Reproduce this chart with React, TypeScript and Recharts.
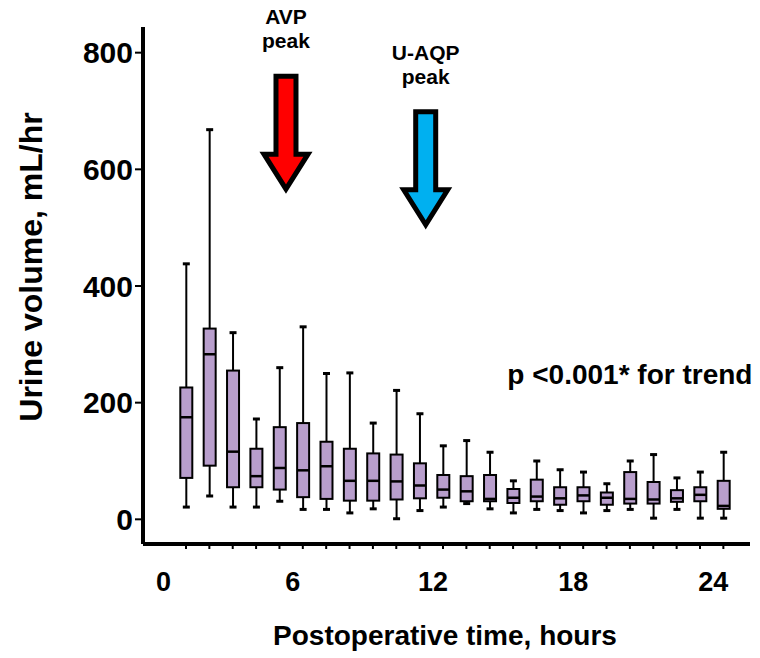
import { ComposedChart, Bar, XAxis, YAxis, ReferenceDot } from "recharts";

const FONT = '"Liberation Sans", Arial, Helvetica, sans-serif';

// postoperative hour of each box
const hours = [1, 2, 3, 4, 5, 6, 7, 8, 9, 10, 11, 12, 13, 14, 15, 16, 17, 18, 19, 20, 21, 22, 23, 24];
// urine volume, mL/hr
const maxs = [438, 668, 320, 172, 260, 330, 250, 251, 165, 221, 181, 126, 135, 115, 66, 100, 85, 81, 61, 100, 111, 71, 81, 115];
const q3s = [226, 327, 255, 121, 158, 165, 133, 121, 113, 111, 96, 76, 74, 76, 52, 68, 55, 55, 46, 81, 64, 50, 55, 66];
const medians = [175, 283, 116, 74, 88, 84, 91, 66, 66, 65, 58, 51, 48, 35, 37, 39, 36, 41, 37, 35, 34, 36, 42, 23];
const q1s = [71, 92, 55, 55, 51, 38, 35, 32, 32, 34, 36, 37, 31, 31, 28, 31, 25, 31, 25, 27, 27, 30, 31, 18];
const mins = [21, 40, 21, 21, 31, 17, 17, 11, 18, 1, 15, 21, 27, 18, 11, 17, 15, 11, 15, 17, 2, 17, 2, 2];

const xTicks = [0, 1, 2, 3, 4, 5, 6, 7, 8, 9, 10, 11, 12, 13, 14, 15, 16, 17, 18, 19, 20, 21, 22, 23, 24];
const yTicks = [0, 200, 400, 600, 800];

// annotation anchors (arrow tips), in data units
const avpPeak = { hour: 5.28, value: 566 };
const aqpPeak = { hour: 11.26, value: 505 };
const trendNote = { hour: 20.0, value: 246 };

const data = hours.map((h, i) => ({
  hour: h,
  min: mins[i],
  q1: q1s[i],
  median: medians[i],
  q3: q3s[i],
  max: maxs[i],
}));

const BoxShape = (props: any) => {
  const { x, y, width, height, payload } = props;
  if (!payload) return null;
  const top = Math.min(y, y + height);
  const bottom = Math.max(y, y + height);
  const span = payload.max - payload.min;
  const toY = (v: number) => (span === 0 ? top : top + ((payload.max - v) / span) * (bottom - top));
  const cx = x + width / 2;
  const yq3 = toY(payload.q3);
  const yq1 = toY(payload.q1);
  const ymed = toY(payload.median);
  const cap = 3.5;
  return (
    <g>
      <line x1={cx} x2={cx} y1={top} y2={bottom} stroke="#000" strokeWidth={2} />
      <line x1={cx - cap} x2={cx + cap} y1={top} y2={top} stroke="#000" strokeWidth={3} />
      <line x1={cx - cap} x2={cx + cap} y1={bottom} y2={bottom} stroke="#000" strokeWidth={3} />
      <rect x={x} y={yq3} width={width} height={yq1 - yq3} fill="#b89ecc" stroke="#000" strokeWidth={2} />
      <line x1={x} x2={x + width} y1={ymed} y2={ymed} stroke="#000" strokeWidth={2.5} />
    </g>
  );
};

const XTick = (props: any) => {
  const { x, y, payload } = props;
  const h = payload.value;
  return (
    <g>
      {h > 0 && <line x1={x} x2={x} y1={y} y2={y + 5} stroke="#000" strokeWidth={2} />}
      {h % 6 === 0 && (
        <text
          x={x + (h === 0 ? 1 : -10)}
          y={y + 47}
          textAnchor="middle"
          fontFamily={FONT}
          fontWeight={700}
          fontSize={27}
          fill="#000"
        >
          {h}
        </text>
      )}
    </g>
  );
};

const makeArrow = (fill: string, line1: string, line2: string) => (props: any) => {
  const { cx, cy } = props;
  const pts = [
    [cx, cy],
    [cx - 22, cy - 35],
    [cx - 10, cy - 35],
    [cx - 10, cy - 113],
    [cx + 10, cy - 113],
    [cx + 10, cy - 35],
    [cx + 22, cy - 35],
  ]
    .map((p) => p.join(","))
    .join(" ");
  return (
    <g>
      <polygon points={pts} fill={fill} stroke="#000" strokeWidth={5} strokeLinejoin="miter" />
      <text x={cx} y={cy - 165} textAnchor="middle" fontFamily={FONT} fontWeight={700} fontSize={21} fill="#000">
        {line1}
      </text>
      <text x={cx} y={cy - 141} textAnchor="middle" fontFamily={FONT} fontWeight={700} fontSize={21} fill="#000">
        {line2}
      </text>
    </g>
  );
};

const TrendNote = (props: any) => (
  <text x={props.cx} y={props.cy + 8} textAnchor="middle" fontFamily={FONT} fontWeight={700} fontSize={28} fill="#000">
    p &lt;0.001* for trend
  </text>
);

export default function App() {
  return (
    <div style={{ position: "absolute", left: 0, top: 0, background: "#fff" }}>
      <ComposedChart width={760} height={658} data={data} margin={{ top: 27, right: 10, bottom: 0, left: 0 }}>
        <XAxis
          dataKey="hour"
          type="number"
          domain={[-0.84, 25.14]}
          allowDataOverflow
          ticks={xTicks}
          interval={0}
          height={114}
          tickSize={0}
          tickMargin={0}
          tickLine={false}
          tick={<XTick />}
          axisLine={{ stroke: "#000", strokeWidth: 4 }}
          label={{
            content: () => (
              <text x={445} y={645} textAnchor="middle" fontFamily={FONT} fontWeight={700} fontSize={28} fill="#000">
                Postoperative time, hours
              </text>
            ),
          }}
        />
        <YAxis
          type="number"
          domain={[-42.3, 844]}
          allowDataOverflow
          ticks={yTicks}
          interval={0}
          width={143}
          tickSize={8}
          tickMargin={2}
          tickLine={{ stroke: "#000", strokeWidth: 2 }}
          axisLine={{ stroke: "#000", strokeWidth: 4 }}
          tick={{ fill: "#000", fontSize: 30, fontWeight: 700, fontFamily: FONT }}
          label={{
            content: () => (
              <text
                x={42}
                y={267}
                transform="rotate(-90 42 267)"
                textAnchor="middle"
                fontFamily={FONT}
                fontWeight={700}
                fontSize={32}
                fill="#000"
              >
                Urine volume, mL/hr
              </text>
            ),
          }}
        />
        <Bar dataKey={(d: any) => [d.min, d.max]} barSize={12} shape={<BoxShape />} isAnimationActive={false} />
        <ReferenceDot x={avpPeak.hour} y={avpPeak.value} shape={makeArrow("#ff0000", "AVP", "peak")} />
        <ReferenceDot x={aqpPeak.hour} y={aqpPeak.value} shape={makeArrow("#00b0f0", "U-AQP", "peak")} />
        <ReferenceDot x={trendNote.hour} y={trendNote.value} shape={TrendNote} />
      </ComposedChart>
    </div>
  );
}
